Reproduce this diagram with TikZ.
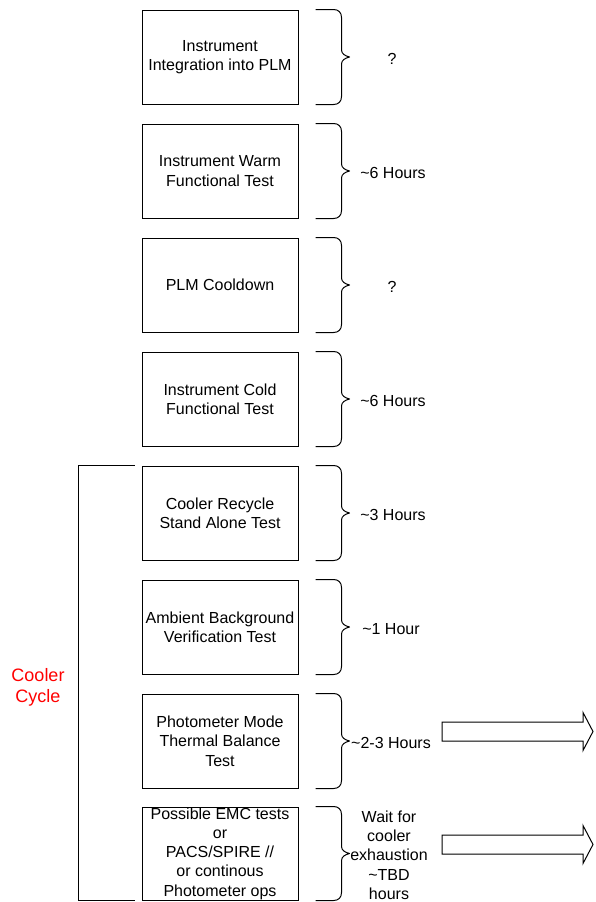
\documentclass[tikz,border=0pt]{standalone}
\usepackage{fontspec}
\setmainfont{Liberation Sans}
\usetikzlibrary{calc}

% curly brace drawn to the right of a stage box, tip pointing at its label
\newcommand\stagebrace[1]{%
  \draw[bracestyle] let \p1=(#1.north east), \p2=(#1.south east),
        \n1={0.5*(\y1+\y2)} in
    (\x1+17,\y1) -- (\x1+35,\y1)
    .. controls (\x1+40,\y1) and (\x1+43,\y1-3) .. (\x1+43,\y1-8)
    -- (\x1+43,\n1+7)
    .. controls (\x1+43,\n1+3) and (\x1+47,\n1+1) .. (\x1+51,\n1)
    .. controls (\x1+47,\n1-1) and (\x1+43,\n1-3) .. (\x1+43,\n1-7)
    -- (\x1+43,\y2+8)
    .. controls (\x1+43,\y2+3) and (\x1+40,\y2) .. (\x1+35,\y2)
    -- (\x1+17,\y2);
}

\begin{document}
\begin{tikzpicture}[x=1pt,y=1pt,
  stagebox/.style={draw,line width=1pt,minimum width=156pt,minimum height=94pt,
    inner sep=0pt,align=center,font=\fontsize{16}{19.3}\selectfont},
  durlabel/.style={align=center,inner sep=0pt,font=\fontsize{16}{19.3}\selectfont},
  bracestyle/.style={line width=1pt,line join=round},
  bigarrow/.style={draw,line width=1pt,fill=white,line join=miter}]
\useasboundingbox (0,0) rectangle (595,-902);

% stages
\node[stagebox] (b1) at (220,-57)  {Instrument\\Integration into PLM};
\node[stagebox] (b2) at (220,-171) {Instrument Warm\\Functional Test};
\node[stagebox] (b3) at (220,-285) {PLM Cooldown};
\node[stagebox] (b4) at (220,-399) {Instrument Cold\\Functional Test};
\node[stagebox] (b5) at (220,-513) {Cooler Recycle\\Stand Alone Test};
\node[stagebox] (b6) at (220,-627) {Ambient Background\\Verification Test};
\node[stagebox] (b7) at (220,-741) {Photometer Mode\\Thermal Balance\\Test};
\node[stagebox, minimum height=93pt] (b8) at (220,-853.5)
  {Possible EMC tests\\or\\PACS/SPIRE //\\or continous\\Photometer ops};

% braces
\foreach \b in {b1,b2,b3,b4,b5,b6,b7,b8} {\stagebrace{\b}}

% durations
\node[durlabel] (d1) at (392,-59)  {?};
\node[durlabel] (d2) at (393,-173) {\char`\~6 Hours};
\node[durlabel] (d3) at (392,-287) {?};
\node[durlabel] (d4) at (393,-401) {\char`\~6 Hours};
\node[durlabel] (d5) at (393,-515) {\char`\~3 Hours};
\node[durlabel] (d6) at (391,-629) {\char`\~1 Hour};
\node[durlabel] (d7) at (391,-743) {\char`\~2-3 Hours};
\node[durlabel] (d8) at (389,-855)
  {Wait for\\cooler\\exhaustion\\\char`\~TBD\\hours};

% cooler cycle bracket
\coordinate (ct) at ($(b5.north west)+(-7,0)$);
\coordinate (cb) at ($(b8.south west)+(-7,0)$);
\draw[line width=1pt] (ct) -- ++(-56,0) |- (cb);
\node[text=red,align=center,inner sep=0pt,font=\fontsize{18}{21}\selectfont]
  (cc) at (38,-687) {Cooler\\Cycle};

% outgoing block arrows
\foreach \n/\yc in {a1/-731.5,a2/-844.5} {
  \coordinate (\n) at (442,\yc);
  \draw[bigarrow] (\n) ++(0,9.5) -- ++(141,0) -- ++(0,9.5) -- ++(10,-19)
    -- ++(-10,-19) -- ++(0,9.5) -- ++(-141,0) -- cycle;
}
\end{tikzpicture}
\end{document}
